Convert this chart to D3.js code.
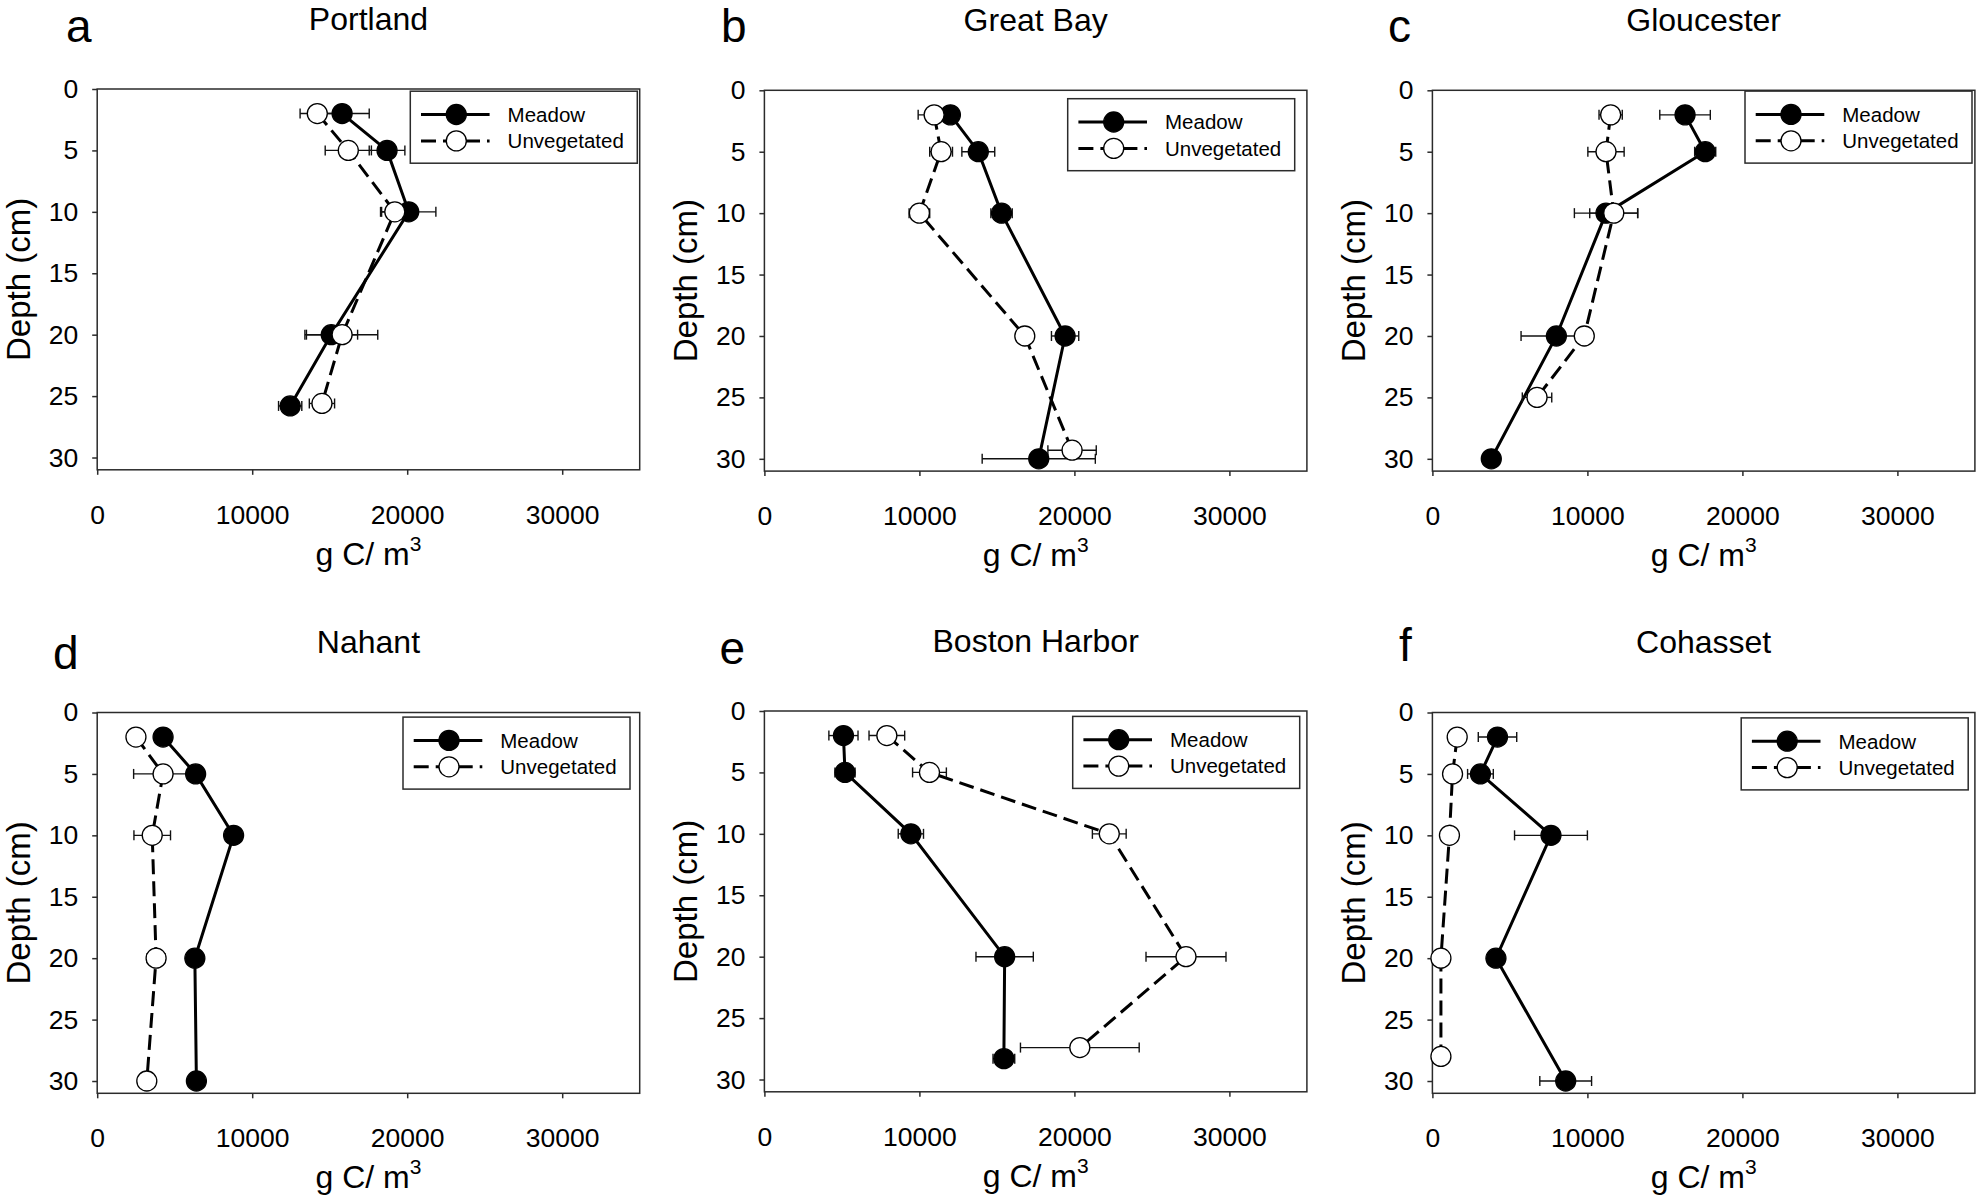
<!DOCTYPE html>
<html><head><meta charset="utf-8">
<script src="https://cdn.jsdelivr.net/npm/d3@7"></script>
<style>body{margin:0;background:#fff} svg{display:block}</style>
</head><body>
<svg id="chart" width="1980" height="1202"></svg>
<script>
// ---------- data ----------
const panelLetters = ['a', 'b', 'c', 'd', 'e', 'f'];
const siteNames = ['Portland', 'Great Bay', 'Gloucester', 'Nahant', 'Boston Harbor', 'Cohasset'];
const seriesNames = ['Meadow', 'Unvegetated'];
const xTicks = [0, 10000, 20000, 30000];
const yTicks = [0, 5, 10, 15, 20, 25, 30];
const xLabel = 'g C/ m';
const xLabelSup = '3';
const yLabel = 'Depth (cm)';

// Meadow (filled circles, solid line)
const meadowDepths = [
  [2, 5, 10, 20, 25.8],
  [2, 5, 10, 20, 30],
  [2, 5, 10, 20, 30],
  [2, 5, 10, 20, 30],
  [2, 5, 10, 20, 28.3],
  [2, 5, 10, 20, 30]
];
const meadowValues = [
  [15800, 18700, 20100, 15100, 12450],
  [12000, 13800, 15300, 19400, 17700],
  [16300, 17600, 11200, 8000, 3800],
  [4250, 6350, 8800, 6300, 6400],
  [5100, 5200, 9450, 15500, 15450],
  [4200, 3100, 7650, 4100, 8600]
];
const meadowErrors = [
  [1750, 1150, 1750, 1700, 750],
  [0, 1060, 690, 880, 3650],
  [1630, 680, 2040, 2280, 0],
  [0, 0, 0, 0, 0],
  [940, 650, 815, 1850, 700],
  [1240, 830, 2350, 0, 1670]
];

// Unvegetated (open circles, dashed line)
const unvegDepths = [
  [2, 5, 10, 20, 25.6],
  [2, 5, 10, 20, 29.3],
  [2, 5, 10, 20, 25],
  [2, 5, 10, 20, 30],
  [2, 5, 10, 20, 27.4],
  [2, 5, 10, 20, 28]
];
const unvegValues = [
  [14200, 16200, 19200, 15800, 14500],
  [10950, 11400, 10000, 16800, 19850],
  [11500, 11200, 11700, 9800, 6750],
  [2500, 4250, 3550, 3800, 3200],
  [7900, 10650, 22250, 27200, 20350],
  [1600, 1300, 1100, 550, 550]
];
const unvegErrors = [
  [1110, 1490, 920, 2300, 815],
  [1030, 735, 665, 0, 1560],
  [750, 1170, 1550, 0, 950],
  [0, 1900, 1180, 590, 0],
  [1150, 1090, 1090, 2580, 3830],
  [0, 0, 0, 0, 0]
];

// ---------- layout ----------
const FONT = "Arial, 'Liberation Sans', Helvetica, sans-serif";
const W = 542.5, H = 380.8;
const layout = [
  {left: 97.2,   top: 89,    legendRight: 2.4,  legendTop: 2.2, letterX: 66,     letterY: 42},
  {left: 764.4,  top: 90.3,  legendRight: 12.2, legendTop: 8.4, letterX: 721,    letterY: 42},
  {left: 1432.4, top: 90.3,  legendRight: 2.9,  legendTop: 0.8, letterX: 1388,   letterY: 42},
  {left: 97.2,   top: 712.5, legendRight: 9.7,  legendTop: 4.6, letterX: 53,     letterY: 669},
  {left: 764.4,  top: 711,   legendRight: 7.2,  legendTop: 5.4, letterX: 719.5,  letterY: 664},
  {left: 1432.4, top: 712.5, legendRight: 6.7,  legendTop: 5.4, letterX: 1399,   letterY: 661}
];
const R = 10;
const DASH = '15,7';
const FRAME = '#2b2b2b';

const svg = d3.select('#chart');
svg.append('rect').attr('width', 1980).attr('height', 1202).attr('fill', '#fff');

siteNames.forEach((site, i) => {
  const L = layout[i];
  const x = d3.scaleLinear().domain([0, 35000]).range([0, W]);
  const y = d3.scaleLinear().domain([0, 31]).range([0, H]);

  // panel letter & title
  svg.append('text').attr('x', L.letterX).attr('y', L.letterY)
    .attr('font-family', FONT).attr('font-size', 46).attr('fill', '#000')
    .text(panelLetters[i]);
  svg.append('text').attr('x', L.left + W / 2).attr('y', L.top - 59.5)
    .attr('text-anchor', 'middle').attr('font-family', FONT).attr('font-size', 32).attr('fill', '#000')
    .text(site);

  const g = svg.append('g').attr('transform', `translate(${L.left},${L.top})`);

  // axes
  const xa = g.append('g').attr('transform', `translate(0,${H})`)
    .call(d3.axisBottom(x).tickValues(xTicks).tickSize(5).tickPadding(30).tickFormat(d => String(d)));
  const ya = g.append('g')
    .call(d3.axisLeft(y).tickValues(yTicks).tickSize(5).tickPadding(14).tickFormat(d => String(d)));
  [xa, ya].forEach(a => {
    a.select('.domain').remove();
    a.selectAll('line').attr('stroke', FRAME).attr('stroke-width', 1.5);
    a.selectAll('text').attr('font-family', FONT).attr('font-size', 26.5).attr('fill', '#000');
  });

  // frame
  g.append('rect').attr('x', 0).attr('y', 0).attr('width', W).attr('height', H)
    .attr('fill', 'none').attr('stroke', FRAME).attr('stroke-width', 1.5);

  // axis titles
  const xt = svg.append('text').attr('x', L.left + W / 2).attr('y', L.top + H + 95)
    .attr('text-anchor', 'middle').attr('font-family', FONT).attr('font-size', 32).attr('fill', '#000');
  xt.append('tspan').text(xLabel);
  xt.append('tspan').attr('font-size', 21).attr('dy', -14).text(xLabelSup);
  svg.append('text')
    .attr('transform', `translate(${L.left - 67},${L.top + H / 2}) rotate(-90)`)
    .attr('text-anchor', 'middle').attr('font-family', FONT).attr('font-size', 33).attr('fill', '#000')
    .text(yLabel);

  const meadow = meadowDepths[i].map((d, k) => ({d, v: meadowValues[i][k], e: meadowErrors[i][k]}));
  const unveg = unvegDepths[i].map((d, k) => ({d, v: unvegValues[i][k], e: unvegErrors[i][k]}));
  const line = d3.line().x(p => x(p.v)).y(p => y(p.d));

  g.append('path').datum(meadow).attr('d', line)
    .attr('fill', 'none').attr('stroke', '#000').attr('stroke-width', 3);
  g.append('path').datum(unveg).attr('d', line)
    .attr('fill', 'none').attr('stroke', '#000').attr('stroke-width', 3).attr('stroke-dasharray', DASH);

  const drawErr = (pts) => {
    pts.filter(p => p.e > 0).forEach(p => {
      const eg = g.append('g').attr('stroke', '#111').attr('stroke-width', 1.4);
      eg.append('line').attr('x1', x(p.v - p.e)).attr('x2', x(p.v + p.e)).attr('y1', y(p.d)).attr('y2', y(p.d));
      [p.v - p.e, p.v + p.e].forEach(xv => {
        eg.append('line').attr('x1', x(xv)).attr('x2', x(xv)).attr('y1', y(p.d) - 5).attr('y2', y(p.d) + 5);
      });
    });
  };
  drawErr(meadow);
  drawErr(unveg);

  g.selectAll('circle.m').data(meadow).enter().append('circle')
    .attr('cx', p => x(p.v)).attr('cy', p => y(p.d)).attr('r', R)
    .attr('fill', '#000').attr('stroke', '#000').attr('stroke-width', 1.3);
  g.selectAll('circle.u').data(unveg).enter().append('circle')
    .attr('cx', p => x(p.v)).attr('cy', p => y(p.d)).attr('r', R)
    .attr('fill', '#fff').attr('stroke', '#000').attr('stroke-width', 1.3);

  // legend
  const lw = 227, lh = 72;
  const lg = g.append('g').attr('transform', `translate(${W - L.legendRight - lw},${L.legendTop})`);
  lg.append('rect').attr('width', lw).attr('height', lh).attr('fill', '#fff')
    .attr('stroke', FRAME).attr('stroke-width', 1.5);
  const rows = [23.3, 49.7];
  seriesNames.forEach((name, k) => {
    lg.append('line').attr('x1', 10.7).attr('x2', 79.3).attr('y1', rows[k]).attr('y2', rows[k])
      .attr('stroke', '#000').attr('stroke-width', 3)
      .attr('stroke-dasharray', k === 1 ? DASH : null);
    lg.append('circle').attr('cx', 46).attr('cy', rows[k]).attr('r', R)
      .attr('fill', k === 0 ? '#000' : '#fff').attr('stroke', '#000').attr('stroke-width', 1.3);
    lg.append('text').attr('x', 97.3).attr('y', rows[k]).attr('dy', '0.36em')
      .attr('font-family', FONT).attr('font-size', 20.5).attr('fill', '#000').text(name);
  });
});
</script>
</body></html>
